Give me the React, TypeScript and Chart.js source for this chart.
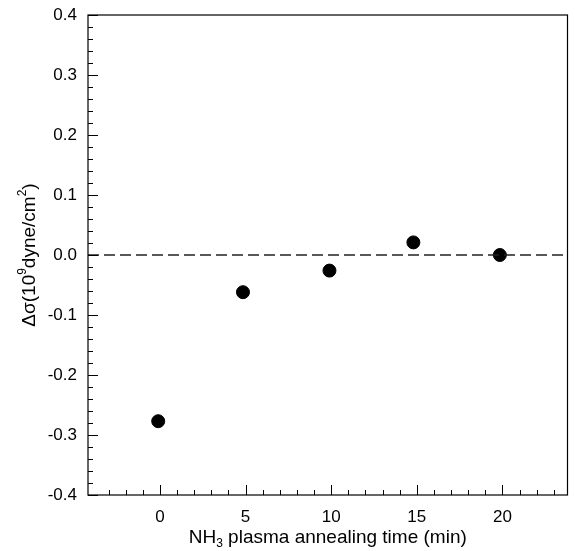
import React, { useEffect, useRef } from "react";
import { Chart, registerables } from "chart.js";

Chart.register(...registerables);

const xValues = [-0.1, 4.85, 9.9, 14.8, 19.85];
const yValues = [-0.277, -0.062, -0.026, 0.021, 0.0];
const xTickValues = [0, 5, 10, 15, 20];
const yTickValues = [-0.4, -0.3, -0.2, -0.1, 0.0, 0.1, 0.2, 0.3, 0.4];
const xMin = -4.2;
const xMax = 23.8;
const yMin = -0.4;
const yMax = 0.4;
const refLineY = 0;

const FONT = "'Liberation Sans', Arial, Helvetica, sans-serif";

type Seg = { t: string; sub?: boolean; sup?: boolean };
const xTitle: Seg[] = [{ t: "NH" }, { t: "3", sub: true }, { t: " plasma annealing time (min)" }];
const yTitle: Seg[] = [{ t: "Δσ(10" }, { t: "9", sup: true }, { t: "dyne/cm" }, { t: "2", sup: true }, { t: ")" }];

function drawRich(ctx: CanvasRenderingContext2D, segs: Seg[], size: number) {
  const small = Math.round(size * 0.62);
  let total = 0;
  for (const s of segs) {
    ctx.font = `${s.sub || s.sup ? small : size}px ${FONT}`;
    total += ctx.measureText(s.t).width;
  }
  let x = -total / 2;
  ctx.textBaseline = "middle";
  ctx.textAlign = "left";
  for (const s of segs) {
    ctx.font = `${s.sub || s.sup ? small : size}px ${FONT}`;
    const dy = s.sub ? size * 0.3 : s.sup ? -size * 0.38 : 0;
    ctx.fillText(s.t, x, dy);
    x += ctx.measureText(s.t).width;
  }
}

const framePlugin = {
  id: "frame",
  afterDraw(chart: any) {
    const { ctx, chartArea, scales } = chart;
    const { left, right, top, bottom } = chartArea;
    const xs = scales.x;
    const ys = scales.y;
    ctx.save();
    ctx.strokeStyle = "#000";
    ctx.lineWidth = 1.2;
    ctx.strokeRect(left, top, right - left, bottom - top);
    ctx.lineWidth = 1;
    ctx.beginPath();
    for (let v = -3; v <= 23; v++) {
      const px = Math.round(xs.getPixelForValue(v)) + 0.5;
      const len = v % 5 === 0 ? 10 : 5;
      ctx.moveTo(px, bottom);
      ctx.lineTo(px, bottom - len);
    }
    for (let i = -20; i <= 20; i++) {
      const v = i * 0.02;
      const py = Math.round(ys.getPixelForValue(v)) + 0.5;
      const len = i % 5 === 0 ? 10 : 5;
      ctx.moveTo(left, py);
      ctx.lineTo(left + len, py);
    }
    ctx.stroke();

    ctx.fillStyle = "#000";
    ctx.save();
    ctx.translate((left + right) / 2, 538);
    drawRich(ctx, xTitle, 19);
    ctx.restore();
    ctx.save();
    ctx.translate(30, (top + bottom) / 2);
    ctx.rotate(-Math.PI / 2);
    drawRich(ctx, yTitle, 19);
    ctx.restore();
    ctx.restore();
  },
};

export default function App() {
  const ref = useRef<HTMLCanvasElement>(null);
  useEffect(() => {
    if (!ref.current) return;
    const chart = new Chart(ref.current, {
      type: "scatter",
      data: {
        datasets: [
          {
            type: "line",
            data: [
              { x: xMin, y: refLineY },
              { x: xMax, y: refLineY },
            ],
            borderColor: "#222",
            borderWidth: 1.4,
            borderDash: [11, 5],
            pointRadius: 0,
            fill: false,
          } as any,
          {
            data: xValues.map((x, i) => ({ x, y: yValues[i] })),
            backgroundColor: "#000",
            borderColor: "#000",
            pointRadius: 6.5,
            pointHoverRadius: 6.5,
          },
        ],
      },
      options: {
        animation: false,
        responsive: false,
        events: [],
        layout: { padding: { top: 15, right: 5, left: 0, bottom: 0 } },
        plugins: { legend: { display: false }, tooltip: { enabled: false } },
        scales: {
          x: {
            type: "linear",
            min: xMin,
            max: xMax,
            grid: { display: false, drawTicks: false },
            border: { display: false },
            afterBuildTicks: (s: any) => {
              s.ticks = xTickValues.map((v) => ({ value: v }));
            },
            afterFit: (s: any) => {
              s.height = 56;
              s.paddingLeft = 0;
              s.paddingRight = 0;
            },
            ticks: {
              color: "#000",
              padding: 12,
              font: { family: FONT, size: 17 },
              callback: (v: any) => String(v),
            },
          },
          y: {
            type: "linear",
            min: yMin,
            max: yMax,
            grid: { display: false, drawTicks: false },
            border: { display: false },
            afterBuildTicks: (s: any) => {
              s.ticks = yTickValues.map((v) => ({ value: v }));
            },
            afterFit: (s: any) => {
              s.width = 88;
              s.paddingTop = 0;
              s.paddingBottom = 0;
            },
            ticks: {
              color: "#000",
              padding: 11,
              font: { family: FONT, size: 17 },
              callback: (v: any) => Number(v).toFixed(1),
            },
          },
        },
      },
      plugins: [framePlugin],
    });
    return () => chart.destroy();
  }, []);
  return (
    <div style={{ position: "fixed", left: 0, top: 0, width: 575, height: 551, background: "#fff" }}>
      <canvas ref={ref} width={575} height={551} style={{ width: 575, height: 551, display: "block" }} />
    </div>
  );
}
